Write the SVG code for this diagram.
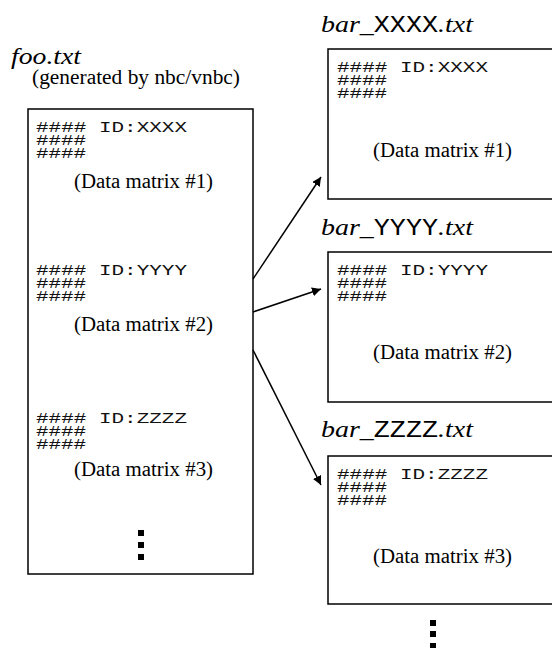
<svg xmlns="http://www.w3.org/2000/svg" width="552" height="648" viewBox="0 0 552 648">
<defs>
<style>
.box{fill:#fff;stroke:#000;stroke-width:1.5}
.mono{font-family:'Liberation Mono','Courier New',monospace;font-size:15px;fill:#111}
.serif{font-family:'Liberation Serif','Times New Roman',serif;font-size:20px;fill:#000}
.it{font-family:'Liberation Serif','Times New Roman',serif;font-style:italic;font-size:24px;fill:#000}
.tm{font-family:'Liberation Mono','Courier New',monospace;font-style:normal;font-size:23px}
.edge{stroke:#000;stroke-width:1.5;fill:none;marker-end:url(#ah)}
.dot{fill:#000}
</style>
<marker id="ah" viewBox="0 0 10 10" refX="10" refY="5" markerWidth="9" markerHeight="9" markerUnits="userSpaceOnUse" orient="auto-start-reverse">
<path d="M0,0 L10,5 L0,10 z" fill="#000"/>
</marker>
</defs>
<rect width="552" height="648" fill="#fff"/>

<g id="foo">
<text class="it" x="11" y="64" textLength="70" lengthAdjust="spacingAndGlyphs">foo.txt</text>
<text class="serif" x="32" y="84" textLength="208" lengthAdjust="spacingAndGlyphs">(generated by nbc/vnbc)</text>
<rect class="box" x="28" y="109" width="225" height="465"/>
<text class="mono" xml:space="preserve"><tspan x="36" y="132" textLength="151" lengthAdjust="spacingAndGlyphs">#### ID:XXXX</tspan><tspan x="36" y="145" textLength="50" lengthAdjust="spacingAndGlyphs">####</tspan><tspan x="36" y="158" textLength="50" lengthAdjust="spacingAndGlyphs">####</tspan></text>
<text class="serif" x="74" y="188" textLength="139" lengthAdjust="spacingAndGlyphs">(Data matrix #1)</text>
<text class="mono" xml:space="preserve"><tspan x="36" y="275" textLength="151" lengthAdjust="spacingAndGlyphs">#### ID:YYYY</tspan><tspan x="36" y="288" textLength="50" lengthAdjust="spacingAndGlyphs">####</tspan><tspan x="36" y="301" textLength="50" lengthAdjust="spacingAndGlyphs">####</tspan></text>
<text class="serif" x="74" y="331" textLength="139" lengthAdjust="spacingAndGlyphs">(Data matrix #2)</text>
<text class="mono" xml:space="preserve"><tspan x="36" y="423" textLength="151" lengthAdjust="spacingAndGlyphs">#### ID:ZZZZ</tspan><tspan x="36" y="436" textLength="50" lengthAdjust="spacingAndGlyphs">####</tspan><tspan x="36" y="449" textLength="50" lengthAdjust="spacingAndGlyphs">####</tspan></text>
<text class="serif" x="74" y="476" textLength="139" lengthAdjust="spacingAndGlyphs">(Data matrix #3)</text>
<rect class="dot" x="138" y="530" width="6" height="6"/>
<rect class="dot" x="138" y="542" width="6" height="6"/>
<rect class="dot" x="138" y="554" width="6" height="6"/>
</g>

<g id="barX">
<text class="it" x="321" y="32" textLength="152" lengthAdjust="spacingAndGlyphs">bar_<tspan class="tm">XXXX</tspan>.txt</text>
<rect class="box" x="328" y="49" width="230" height="150"/>
<text class="mono" xml:space="preserve"><tspan x="337" y="72" textLength="151" lengthAdjust="spacingAndGlyphs">#### ID:XXXX</tspan><tspan x="337" y="85" textLength="50" lengthAdjust="spacingAndGlyphs">####</tspan><tspan x="337" y="98" textLength="50" lengthAdjust="spacingAndGlyphs">####</tspan></text>
<text class="serif" x="373" y="157" textLength="139" lengthAdjust="spacingAndGlyphs">(Data matrix #1)</text>
</g>

<g id="barY">
<text class="it" x="321" y="235" textLength="152" lengthAdjust="spacingAndGlyphs">bar_<tspan class="tm">YYYY</tspan>.txt</text>
<rect class="box" x="328" y="252" width="230" height="150"/>
<text class="mono" xml:space="preserve"><tspan x="337" y="275" textLength="151" lengthAdjust="spacingAndGlyphs">#### ID:YYYY</tspan><tspan x="337" y="288" textLength="50" lengthAdjust="spacingAndGlyphs">####</tspan><tspan x="337" y="301" textLength="50" lengthAdjust="spacingAndGlyphs">####</tspan></text>
<text class="serif" x="373" y="359" textLength="139" lengthAdjust="spacingAndGlyphs">(Data matrix #2)</text>
</g>

<g id="barZ">
<text class="it" x="321" y="437" textLength="152" lengthAdjust="spacingAndGlyphs">bar_<tspan class="tm">ZZZZ</tspan>.txt</text>
<rect class="box" x="328" y="456" width="230" height="148"/>
<text class="mono" xml:space="preserve"><tspan x="337" y="479" textLength="151" lengthAdjust="spacingAndGlyphs">#### ID:ZZZZ</tspan><tspan x="337" y="492" textLength="50" lengthAdjust="spacingAndGlyphs">####</tspan><tspan x="337" y="505" textLength="50" lengthAdjust="spacingAndGlyphs">####</tspan></text>
<text class="serif" x="373" y="563" textLength="139" lengthAdjust="spacingAndGlyphs">(Data matrix #3)</text>
</g>

<g id="more">
<rect class="dot" x="430" y="620" width="6" height="6"/>
<rect class="dot" x="430" y="631" width="6" height="6"/>
<rect class="dot" x="430" y="643" width="6" height="6"/>
</g>

<g id="connectors">
<line class="edge" x1="253" y1="279" x2="321" y2="177"/>
<line class="edge" x1="253" y1="312" x2="321" y2="289"/>
<line class="edge" x1="253" y1="350" x2="321" y2="485"/>
</g>
</svg>
